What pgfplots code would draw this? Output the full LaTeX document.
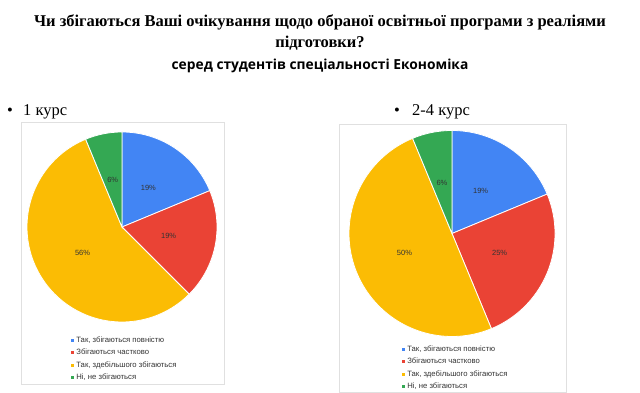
\documentclass[border=0pt]{standalone}
\usepackage{pgfplots}
\pgfplotsset{compat=1.18}
\usepackage{fontspec}
\setmainfont{Liberation Serif}
\setsansfont{Liberation Sans}
\newfontfamily\subfont{Open Sans}
\definecolor{gblue}{HTML}{4285F4}
\definecolor{gred}{HTML}{EA4335}
\definecolor{gyellow}{HTML}{FBBC04}
\definecolor{ggreen}{HTML}{34A853}
\definecolor{boxgray}{HTML}{E0E0E0}
\definecolor{lbl}{HTML}{333333}
% slice: #1 cx, #2 cy, #3 r, #4 cumulative percent before, #5 percent, #6 colour
\newcommand{\slice}[6]{%
  \pgfmathsetmacro\sa{90-3.6*(#4)}%
  \pgfmathsetmacro\sb{90-3.6*(#4+#5)}%
  \edef\doslice{\noexpand\addplot[fill=#6, draw=white, line width=0.8pt, domain=\sb:\sa, samples=90]}%
  \doslice ({#1+#3*cos(x)},{#2+#3*sin(x)}) -- (axis cs:#1,#2) -- cycle;
}
% label: #1 cx, #2 cy, #3 r, #4 mid angle, #5 text
\newcommand{\plabel}[5]{%
  \node[font=\sffamily\fontsize{7.5}{9}\selectfont, text=lbl] at (axis cs:{#1+0.5*#3*cos(#4)},{#2+0.5*#3*sin(#4)}) {#5};
}
\pgfplotsset{
  canvas/.style={
    hide axis, scale only axis, clip=false,
    width=640pt, height=393pt,
    xmin=0, xmax=640, ymin=0, ymax=393,
    at={(0,0)}, anchor=south west,
    legend style={draw=none, fill=none, inner sep=0pt, anchor=north west,
      font=\sffamily\fontsize{7.7}{9}\selectfont, text=lbl,
      row sep=1.4pt, cells={anchor=west}},
    legend image code/.code={\fill[##1,draw=none] (0pt,-1.6pt) rectangle (3.2pt,1.6pt);},
  },
}
\begin{document}
\begin{tikzpicture}[x=1pt,y=1pt]
\useasboundingbox (0,0) rectangle (640,393);
% titles
\node[anchor=base, font=\bfseries\fontsize{16.5}{18}\selectfont, inner sep=0pt] at (320,393-27) {Чи збігаються Ваші очікування щодо обраної освітньої програми з реаліями};
\node[anchor=base, font=\bfseries\fontsize{16.5}{18}\selectfont, inner sep=0pt] at (320,393-48) {підготовки?};
\node[anchor=base, font=\subfont\bfseries\fontsize{13.8}{15}\selectfont, inner sep=0pt] at (320,393-70) {серед студентів спеціальності Економіка};
% bullets
\node[anchor=base west, font=\fontsize{16.5}{18}\selectfont, inner sep=0pt] at (7,393-116) {\textbullet};
\node[anchor=base west, font=\fontsize{16.5}{18}\selectfont, inner sep=0pt] at (23,393-116) {1 курс};
\node[anchor=base west, font=\fontsize{16.5}{18}\selectfont, inner sep=0pt] at (394,393-116) {\textbullet};
\node[anchor=base west, font=\fontsize{16.5}{18}\selectfont, inner sep=0pt] at (412,393-116) {2-4 курс};
% boxes
\draw[boxgray, line width=0.6pt] (21,393-122) rectangle (224,393-384);
\draw[boxgray, line width=0.6pt] (339,393-124) rectangle (566,393-392);

% 1 курс: 18.75, 18.75, 56.25, 6.25
\begin{axis}[canvas, legend style={at={(0.1109,0.1489)}}]
  \slice{122}{166}{95}{0}{18.75}{gblue}
  \slice{122}{166}{95}{18.75}{18.75}{gred}
  \slice{122}{166}{95}{37.5}{56.25}{gyellow}
  \slice{122}{166}{95}{93.75}{6.25}{ggreen}
  \legend{{Так, збігаються повністю},{Збігаються частково},{Так, здебільшого збігаються},{Ні, не збігаються}}
  \plabel{122}{166}{95}{56.25}{19\%}
  \plabel{122}{166}{95}{-11.25}{19\%}
  \plabel{122}{166}{95}{213.75}{56\%}
  \plabel{122}{166}{95}{101.25}{6\%}
\end{axis}

% 2-4 курс: 18.75, 25, 50, 6.25
\begin{axis}[canvas, legend style={at={(0.628,0.126)}}]
  \slice{452}{159.5}{103}{0}{18.75}{gblue}
  \slice{452}{159.5}{103}{18.75}{25}{gred}
  \slice{452}{159.5}{103}{43.75}{50}{gyellow}
  \slice{452}{159.5}{103}{93.75}{6.25}{ggreen}
  \legend{{Так, збігаються повністю},{Збігаються частково},{Так, здебільшого збігаються},{Ні, не збігаються}}
  \plabel{452}{159.5}{103}{56.25}{19\%}
  \plabel{452}{159.5}{103}{-22.5}{25\%}
  \plabel{452}{159.5}{103}{-157.5}{50\%}
  \plabel{452}{159.5}{103}{101.25}{6\%}
\end{axis}
\end{tikzpicture}
\end{document}
